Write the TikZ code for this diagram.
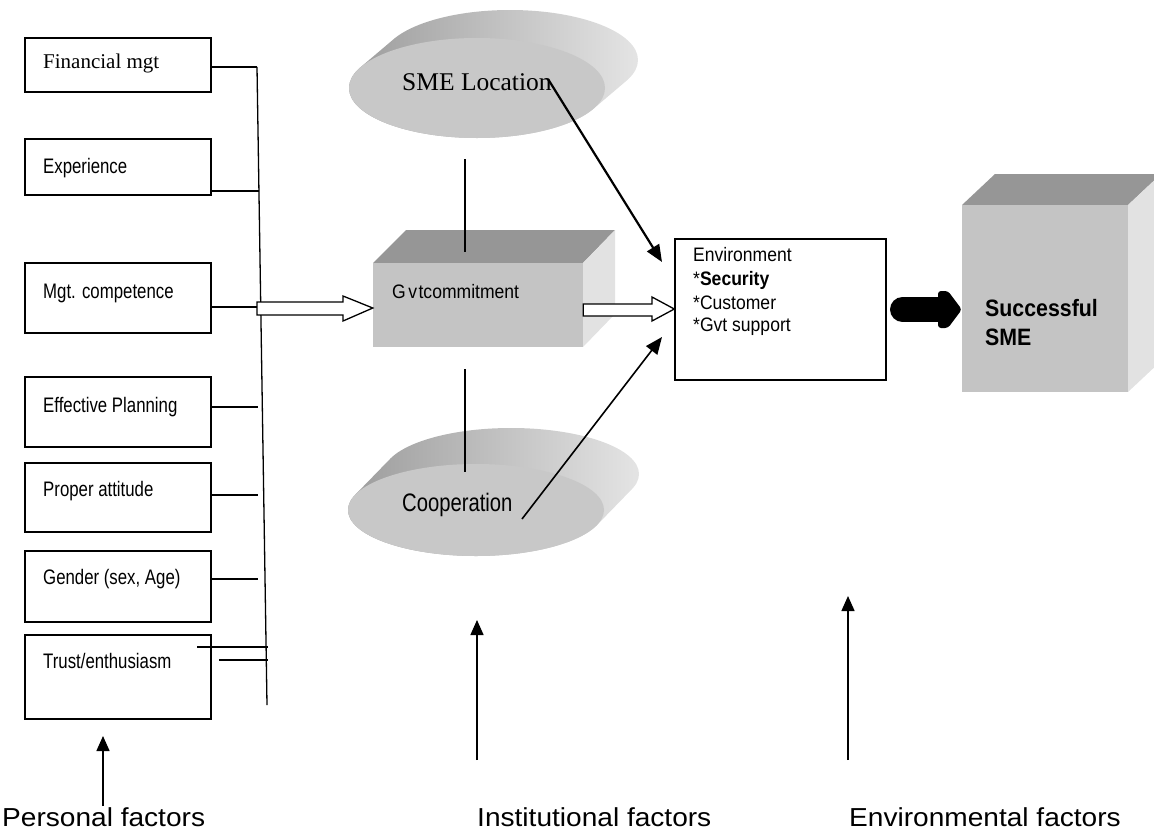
\documentclass[tikz,border=0pt]{standalone}
\usepackage{fontspec}
\usetikzlibrary{arrows.meta,shapes.geometric}
\newfontfamily\arialn[FakeStretch=0.8]{Liberation Sans}
\newfontfamily\arialm[FakeStretch=0.9]{Liberation Sans}
\newfontfamily\arialc[FakeStretch=0.8]{Liberation Sans}
\newfontfamily\arialw[FakeStretch=1.08]{Liberation Sans}
\newfontfamily\tnr{Liberation Serif}
\definecolor{topg}{HTML}{969696}
\definecolor{frontg}{HTML}{C4C4C4}
\definecolor{sideg}{HTML}{E2E2E2}
\definecolor{ellg}{HTML}{C8C8C8}
\definecolor{extl}{HTML}{9C9C9C}
\definecolor{extr}{HTML}{E4E4E4}
\begin{document}
\begin{tikzpicture}[x=1pt,y=-1pt,
  fbox/.style={draw, line width=1.4pt, inner sep=0pt, minimum width=186pt},
  lbl/.style={anchor=base west, inner sep=0pt, font=\arialn\fontsize{21}{24}\selectfont},
  elbl/.style={anchor=base west, inner sep=0pt, font=\arialm\fontsize{19.5}{23}\selectfont},
  conn/.style={line width=1.3pt},
  arr/.style={line width=1.5pt, -{Triangle[length=15pt,width=13pt]}},
  hollow/.style={line width=1.3pt, fill=white},
  botlbl/.style={anchor=base west, inner sep=0pt, font=\arialw\fontsize{26}{30}\selectfont}]
\useasboundingbox (0,0) rectangle (1154,830);
\clip (0,0) rectangle (1154,830);

% ---------- left boxes ----------
\node[fbox, minimum height=54pt] (b1) at (118,65) {};
\node[fbox, minimum height=56pt] (b2) at (118,167) {};
\node[fbox, minimum height=70pt] (b3) at (118,298) {};
\node[fbox, minimum height=70pt] (b4) at (118,412) {};
\node[fbox, minimum height=69pt] (b5) at (118,497.5) {};
\node[fbox, minimum height=71pt] (b6) at (118,586.5) {};
\node[fbox, minimum height=84pt] (b7) at (118,677) {};
\node[anchor=base west, inner sep=0pt, font=\tnr\fontsize{21}{24}\selectfont] (t1) at (43,68) {Financial mgt};
\node[lbl] (t2) at (43,173) {Experience};
\node[lbl] (t3) at (43,298) {Mgt. competence};
\node[lbl] (t4) at (43,412) {Effective Planning};
\node[lbl] (t5) at (43,496) {Proper attitude};
\node[lbl] (t6) at (43,584) {Gender (sex, Age)};
\node[lbl] (t7) at (43,668) {Trust/enthusiasm};

% collector line
\coordinate (vtop) at (257,67);
\coordinate (vbot) at (267,705);
\draw[conn] (vtop) -- (vbot);
\draw[conn] (b1.east |- 0,67) -- (vtop);
\draw[conn] (b2.east |- 0,191) -- (259,191);
\draw[conn] (b3.east |- 0,307) -- (259,307);
\draw[conn] (b4.east |- 0,407) -- (258,407);
\draw[conn] (b5.east |- 0,495) -- (258,495);
\draw[conn] (b6.east |- 0,579) -- (258,579);
\coordinate (tr1) at (197,647);
\coordinate (tr2) at (219,660);
\draw[conn] (tr1) -- (268,647);
\draw[conn] (tr2) -- (268,660);

% ---------- Gvt commitment box ----------
\fill[topg] (373,263)--(406,230)--(615,230)--(583,263)--cycle;
\fill[sideg] (583,263)--(615,230)--(615,314)--(583,347)--cycle;
\node[fill=frontg, minimum width=210pt, minimum height=84pt, inner sep=0pt] (gvt) at (478,305) {};
\node[elbl] (gvtt) at (392,298) {G\kern2.5pt v\kern1.5pt tcommitment};

% hollow arrow into Gvt box
\draw[hollow] (257,302)--(343,302)--(343,296)--(gvt.west |- 0,308)--(343,321)--(343,315)--(257,315)--cycle;

% ---------- SME Location disc ----------
\shade[left color=extl, right color=extr]
  \foreach \i in {0,...,30} { ({477+33*\i/30},{88-28*\i/30}) ellipse [x radius=128, y radius=50] };
\node[ellipse, fill=ellg, minimum width=256pt, minimum height=100pt, inner sep=0pt] (sme) at (477,88) {};
\node[anchor=base west, inner sep=0pt, font=\tnr\fontsize{25.5}{30}\selectfont] (smet) at (402,90) {SME Location};

% ---------- Cooperation disc ----------
\shade[left color=extl, right color=extr]
  \foreach \i in {0,...,30} { ({476+35*\i/30},{510-36*\i/30}) ellipse [x radius=128, y radius=46] };
\node[ellipse, fill=ellg, minimum width=256pt, minimum height=92pt, inner sep=0pt] (coop) at (476,510) {};
\node[anchor=base west, inner sep=0pt, font=\arialc\fontsize{25.3}{30}\selectfont] (coopt) at (402,511) {Cooperation};

% vertical links
\coordinate (l1a) at (465,159);
\coordinate (l1b) at (465,252);
\coordinate (l2a) at (465,369);
\coordinate (l2b) at (465,472);
\draw[conn] (l1a) -- (l1b);
\draw[conn] (l2a) -- (l2b);

% ---------- Environment box ----------
\node[draw, line width=1.4pt, minimum width=211pt, minimum height=141pt, inner sep=0pt] (env) at (780.5,309.5) {};
\node[elbl] (e1) at (693,261) {Environment};
\node[elbl] (e2) at (693,285) {*\textbf{Security}};
\node[elbl] (e3) at (693,309) {*Customer};
\node[elbl] (e4) at (693,331) {*Gvt support};

\draw[hollow] (gvt.east |- 0,304)--(652,304)--(652,297)--(env.west |- 0,309)--(652,321)--(652,316)--(gvt.east |- 0,316)--cycle;

\coordinate (smeS) at (548,79);
\coordinate (coopS) at (522,519);
\draw[line width=2.2pt, -{Triangle[length=17pt,width=14pt]}] (smeS) -- (662,262);
\draw[line width=1.6pt, -{Triangle[length=17pt,width=14pt]}] (coopS) -- (662,337);

% ---------- Successful SME box ----------
\fill[topg] (962,205)--(995,174)--(1161,174)--(1128,205)--cycle;
\fill[sideg] (1128,205)--(1161,174)--(1161,361)--(1128,392)--cycle;
\node[fill=frontg, minimum width=166pt, minimum height=187pt, inner sep=0pt] (ssme) at (1045,298.5) {};
\node[anchor=base west, inner sep=0pt, font=\arialm\bfseries\fontsize{23.7}{29}\selectfont] (s1) at (985,316) {Successful};
\node[anchor=base west, inner sep=0pt, font=\arialm\bfseries\fontsize{23.7}{29}\selectfont] (s2) at (985,345) {SME};

% black block arrow
\draw[line width=25pt, line cap=round] (902.5,309.5) -- (945,309.5);
\fill[rounded corners=3pt] (938,291)--(948,291)--(ssme.west |- 0,309.5)--(948,328)--(938,328)--cycle;

% ---------- bottom labels ----------
\node[botlbl] (pf) at (2,826) {Personal factors};
\node[botlbl] (inf) at (477,826) {Institutional factors};
\node[botlbl] (ef) at (849,826) {Environmental factors};
\coordinate (pa) at (103,806);
\coordinate (ia) at (477,760);
\coordinate (ea) at (848,760);
\draw[arr] (pa) -- (103,736);
\draw[arr] (ia) -- (477,620);
\draw[arr] (ea) -- (848,596);
\end{tikzpicture}
\end{document}
